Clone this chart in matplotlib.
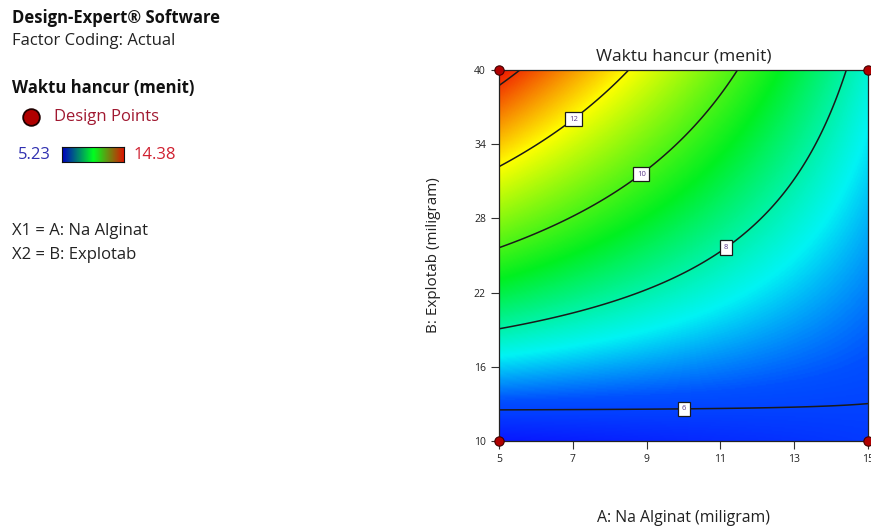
import numpy as np
import matplotlib
matplotlib.use('Agg')
import matplotlib.pyplot as plt
from matplotlib.colors import LinearSegmentedColormap
from matplotlib.lines import Line2D

plt.rcParams['font.family'] = ['Open Sans', 'DejaVu Sans']

# design points (actual units) and measured response
na_alginat = [5, 15, 5, 15]        # A (miligram)
explotab = [10, 10, 40, 40]        # B (miligram)
waktu_hancur = [5.23, 5.82, 14.38, 7.60]   # menit

contour_levels = [6, 8, 10, 12, 14]
label_pos = [(10.0, 12.7), (11.1, 25.9), (8.8, 31.8), (6.95, 36.3)]
x_ticks = [5, 7, 9, 11, 13, 15]
y_ticks = [10, 16, 22, 28, 34, 40]

# 2FI model in coded units, fitted to the design points
def coded(a, b):
    return (np.asarray(a) - 10.0) / 5.0, (np.asarray(b) - 25.0) / 15.0

ca, cb = coded(na_alginat, explotab)
X = np.column_stack([np.ones_like(ca), ca, cb, ca * cb])
coef, *_ = np.linalg.lstsq(X, np.array(waktu_hancur), rcond=None)

def model(a, b):
    xa, xb = coded(a, b)
    return coef[0] + coef[1] * xa + coef[2] * xb + coef[3] * xa * xb

A, B = np.meshgrid(np.linspace(5, 15, 300), np.linspace(10, 40, 300))
Z = model(A, B)

vmin, vmax = min(waktu_hancur), max(waktu_hancur)
def pos(v):
    return (v - vmin) / (vmax - vmin)

de_cmap = LinearSegmentedColormap.from_list('de', [
    (0.0, '#0818ff'), (pos(6.2), '#0050ff'), (pos(7.3), '#00f4f4'),
    (pos(9.2), '#00f020'), (pos(12.0), '#ffff00'), (1.0, '#f01400')])
legend_cmap = LinearSegmentedColormap.from_list('leg', ['#0000c0', '#00ff20', '#e01000'])

fig = plt.figure(figsize=(8.71, 5.27), dpi=100)
ax = fig.add_axes([0.573, 0.163, 0.4236, 0.704])
ax.imshow(Z, origin='lower', extent=[5, 15, 10, 40], aspect='auto',
          cmap=de_cmap, vmin=vmin, vmax=vmax, interpolation='bilinear')
cs = ax.contour(A, B, Z, levels=contour_levels, colors='#1a1a1a', linewidths=1.1)
lbls = ax.clabel(cs, levels=[6, 8, 10, 12], inline=False, fontsize=5.5,
                 manual=label_pos, fmt='%d')
for t in lbls:
    t.set_rotation(0)
    t.set_color('#5a3a8a')
    t.set_bbox(dict(boxstyle='square,pad=0.5', fc='white', ec='#1a1a1a', lw=0.9))

ax.scatter(na_alginat, explotab, s=45, c='#b00000', edgecolors='#400000',
           linewidths=0.8, zorder=5, clip_on=False)

ax.set_xlim(5, 15)
ax.set_ylim(10, 40)
ax.set_xticks(x_ticks)
ax.set_yticks(y_ticks)
ax.tick_params(labelsize=7.5, length=6, width=0.8, color='#333333', labelcolor='#222222')
for sp in ax.spines.values():
    sp.set_color('#222222')
    sp.set_linewidth(0.9)
ax.set_title('Waktu hancur (menit)', fontsize=12.5, color='#222222', pad=7)
ax.set_xlabel('A: Na Alginat (miligram)', fontsize=11.4, color='#222222', labelpad=32)
ax.set_ylabel('B: Explotab (miligram)', fontsize=11, color='#222222', labelpad=24)

# left info panel
fs = 12
fig.text(12 / 871, 1 - 18 / 527, 'Design-Expert\u00ae Software', fontsize=fs,
         fontweight='bold', va='center', color='#111111')
fig.text(12 / 871, 1 - 41 / 527, 'Factor Coding: Actual', fontsize=fs,
         va='center', color='#222222')
fig.text(12 / 871, 1 - 88 / 527, 'Waktu hancur (menit)', fontsize=fs,
         fontweight='bold', va='center', color='#111111')
fig.add_artist(Line2D([31 / 871], [1 - 117 / 527], marker='o', markersize=12,
                      color='#b00000', markeredgecolor='#200000', markeredgewidth=1.3,
                      transform=fig.transFigure))
fig.text(54 / 871, 1 - 117 / 527, 'Design Points', fontsize=fs, va='center',
         color='#a01830')
fig.text(18 / 871, 1 - 155 / 527, '%.2f' % vmin, fontsize=fs, va='center',
         color='#3030b0')
cax = fig.add_axes([62 / 871, 1 - 162 / 527, 62 / 871, 15 / 527])
cax.imshow(np.linspace(0, 1, 100)[None, :], aspect='auto', cmap=legend_cmap)
cax.set_xticks([])
cax.set_yticks([])
for sp in cax.spines.values():
    sp.set_color('#111111')
fig.text(134 / 871, 1 - 155 / 527, '%.2f' % vmax, fontsize=fs, va='center',
         color='#d02030')
fig.text(12 / 871, 1 - 231 / 527, 'X1 = A: Na Alginat', fontsize=fs,
         va='center', color='#222222')
fig.text(12 / 871, 1 - 255 / 527, 'X2 = B: Explotab', fontsize=fs,
         va='center', color='#222222')

fig.savefig('out.png', dpi=100)
